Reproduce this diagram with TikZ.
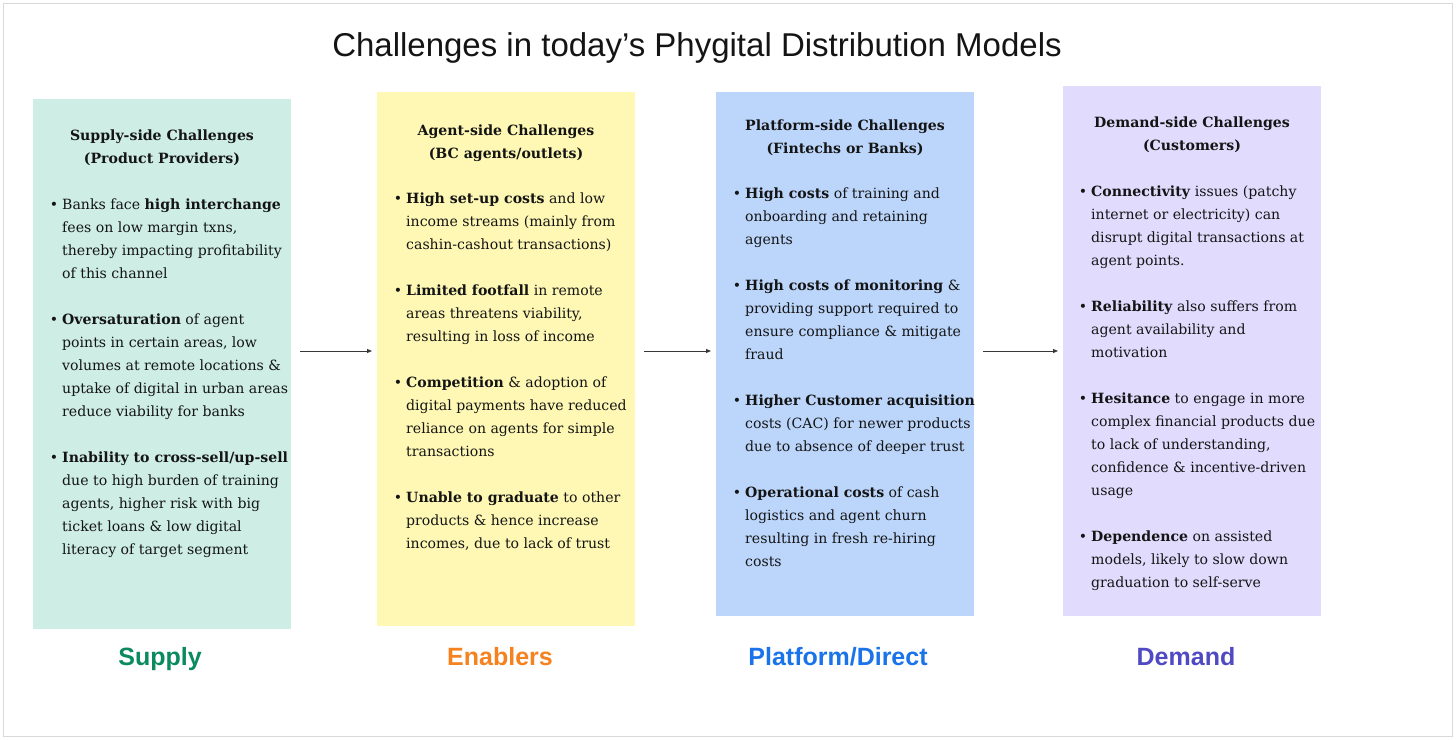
\documentclass[tikz,border=0pt]{standalone}
\usepackage{fontspec}
\setmainfont{DejaVu Serif}
\newfontfamily\grotesk{Liberation Sans}
\usepackage{tikz}
\usetikzlibrary{arrows.meta,positioning,calc}
\definecolor{supfill}{HTML}{CDEDE5}
\definecolor{agtfill}{HTML}{FEF8B4}
\definecolor{platfill}{HTML}{BCD6FB}
\definecolor{demfill}{HTML}{E1DBFD}
\definecolor{supink}{HTML}{0A8A5E}
\definecolor{agtink}{HTML}{F5821F}
\definecolor{platink}{HTML}{1A73E8}
\definecolor{demink}{HTML}{4F4AC4}
\definecolor{ink}{HTML}{141414}
\newcommand{\bul}{\llap{\textbullet\hspace{4pt}}}

\begin{document}
\begin{tikzpicture}[x=1pt,y=-1pt, font=\fontsize{14.1}{23}\selectfont, text=ink,
  panel/.style={anchor=north west, minimum width=258pt, minimum height=#1, inner sep=0pt},
  head/.style={anchor=north, align=center, inner sep=0pt, font=\fontsize{14.1}{23}\selectfont\bfseries},
  body/.style={anchor=north west, align=left, inner sep=0pt},
  tag/.style={anchor=base, font=\grotesk\fontsize{25}{28}\selectfont\bfseries},
  flow/.style={-{Triangle[length=5pt,width=4pt]}, line width=0.8pt, draw=ink!85,
    shorten <=9pt, shorten >=5pt}]
  \useasboundingbox (0,0) rectangle (1456,739);
  \draw[gray!30, line width=1pt] (3,3) rectangle (1452,736);
  % title
  \node[font=\grotesk\fontsize{33}{36}\selectfont] (title) at (697,48)
    {Challenges in today’s Phygital Distribution Models};
  % panels
  \node[panel=530pt, fill=supfill] (sup) at (33,99) {};
  \node[panel=534pt, fill=agtfill] (agt) at (377,92) {};
  \node[panel=524pt, fill=platfill] (plat) at (716,92) {};
  \node[panel=530pt, fill=demfill] (dem) at (1063,86) {};
  % supply side
  \node[head] (suph) at (162,124) {\strut Supply-side Challenges\\(Product Providers)};
  \node[body] (supt) at (62,193) {\strut\bul Banks face \textbf{high interchange}\\
    fees on low margin txns,\\
    thereby impacting profitability\\
    of this channel\\[23pt]
    \bul\textbf{Oversaturation} of agent\\
    points in certain areas, low\\
    volumes at remote locations \&\\
    uptake of digital in urban areas\\
    reduce viability for banks\\[23pt]
    \bul\textbf{Inability to cross-sell/up-sell}\\
    due to high burden of training\\
    agents, higher risk with big\\
    ticket loans \& low digital\\
    literacy of target segment};
  % agent side
  \node[head] (agth) at (506,119) {\strut Agent-side Challenges\\(BC agents/outlets)};
  \node[body] (agtt) at (406,187) {\strut\bul\textbf{High set-up costs} and low\\
    income streams (mainly from\\
    cashin-cashout transactions)\\[23pt]
    \bul\textbf{Limited footfall} in remote\\
    areas threatens viability,\\
    resulting in loss of income\\[23pt]
    \bul\textbf{Competition} \& adoption of\\
    digital payments have reduced\\
    reliance on agents for simple\\
    transactions\\[23pt]
    \bul\textbf{Unable to graduate} to other\\
    products \& hence increase\\
    incomes, due to lack of trust};
  % platform side
  \node[head] (plath) at (845,114) {\strut Platform-side Challenges\\(Fintechs or Banks)};
  \node[body] (platt) at (745,182) {\strut\bul\textbf{High costs} of training and\\
    onboarding and retaining\\
    agents\\[23pt]
    \bul\textbf{High costs of monitoring} \&\\
    providing support required to\\
    ensure compliance \& mitigate\\
    fraud\\[23pt]
    \bul\textbf{Higher Customer acquisition}\\
    costs (CAC) for newer products\\
    due to absence of deeper trust\\[23pt]
    \bul\textbf{Operational costs} of cash\\
    logistics and agent churn\\
    resulting in fresh re-hiring\\
    costs};
  % demand side
  \node[head] (demh) at (1192,111) {\strut Demand-side Challenges\\(Customers)};
  \node[body] (demt) at (1091,180) {\strut\bul\textbf{Connectivity} issues (patchy\\
    internet or electricity) can\\
    disrupt digital transactions at\\
    agent points.\\[23pt]
    \bul\textbf{Reliability} also suffers from\\
    agent availability and\\
    motivation\\[23pt]
    \bul\textbf{Hesitance} to engage in more\\
    complex financial products due\\
    to lack of understanding,\\
    confidence \& incentive-driven\\
    usage\\[23pt]
    \bul\textbf{Dependence} on assisted\\
    models, likely to slow down\\
    graduation to self-serve};
  % flow between panels
  \coordinate (mid) at (0,351);
  \draw[flow] (sup.east |- mid) -- (agt.west |- mid);
  \draw[flow] (agt.east |- mid) -- (plat.west |- mid);
  \draw[flow] (plat.east |- mid) -- (dem.west |- mid);
  % bottom tags
  \node[tag, text=supink] (suptag) at (160,665) {Supply};
  \node[tag, text=agtink] (agttag) at (500,665) {Enablers};
  \node[tag, text=platink] (plattag) at (838,665) {Platform/Direct};
  \node[tag, text=demink] (demtag) at (1186,665) {Demand};
\end{tikzpicture}
\end{document}
